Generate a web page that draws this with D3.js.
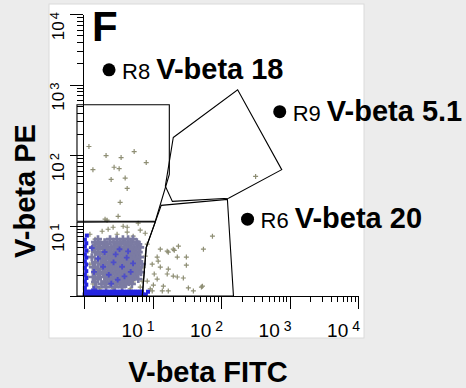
<!DOCTYPE html>
<html>
<head>
<meta charset="utf-8">
<script src="https://cdn.jsdelivr.net/npm/d3@7"></script>
<style>
  body { margin: 0; background: #ececec; }
  text { font-family: "Liberation Sans", Arial, sans-serif; }
</style>
</head>
<body>
<div id="my_dataviz"></div>
<script>
// decades shown on both log axes
var decadeExps = [1, 2, 3, 4];

// gate polygons, in fluorescence units [FITC, PE]
var gateR8 = [[0.79, 517], [17.6, 517], [17.6, 53], [11, 11.5], [0.79, 11.5]];
var gateLymph = [[0.79, 11.1], [11, 11.3], [8.1, 4.9], [7.1, 1], [0.79, 1]];
var gateR6 = [[8.1, 4.9], [13.4, 19.3], [124, 23.5], [152, 1], [7.1, 1]];
var gateR9 = [[20.1, 177], [175, 843], [770, 62], [129, 24.3], [19.5, 22], [15.4, 36]];

// gate markers and labels
var gateNames = ["R8", "R9", "R6"];
var gateLabels = ["V-beta 18", "V-beta 5.1", "V-beta 20"];
var gateMarks = [[2.32, 1616], [720, 412], [244, 12.3]];

// sparse events (grey crosses)
var greyEvents = [
  [75, 7.05], [55.4, 4.62], [23.9, 5.09], [20.1, 4.62], [16.4, 4.33], [23, 3.56], [31.2, 3.56],
  [31.2, 2.74], [11.7, 3.56], [13, 2.57], [10.6, 2.05], [17, 2.41], [16.4, 2.05], [11.7, 1.74],
  [23, 1.86], [9.9, 2.83], [33.4, 1.3], [51.8, 1.34], [13.9, 1.18], [17, 1.18], [9.9, 1.18],
  [39.5, 1.18], [13, 4.62], [17, 4.18], [20.8, 4.45], [28.2, 1.8], [53.6, 1.38], [14.4, 1.38],
  [10.3, 1.43], [12.1, 3.12], [20.1, 1.92],
  [1.18, 132], [2.1, 98], [3.48, 92], [5.4, 112], [8.1, 78], [1.35, 62], [2.75, 67], [3.26, 64],
  [2.49, 45], [3.99, 47], [4.27, 33.6], [3.37, 21.3], [3.15, 13.5], [2.17, 11.9], [320, 49.7],
  [2.03, 12.3], [2.66, 9.45], [3.73, 9.76], [6.18, 10.8], [6.62, 8.57], [7.83, 7.77], [4.27, 8.03],
  [1.22, 7.52], [1.45, 6.39], [1.84, 8.29], [5.22, 7.05], [8.38, 5.43], [7.83, 3.68], [7.32, 2.57],
  [7.08, 1.63], [1.14, 4.33], [1.22, 2.83], [1.14, 1.86], [1.35, 1.48], [1.71, 2.18], [3.37, 1.48],
  [5.22, 1.58], [4.27, 9.45], [3.04, 7.52], [2.25, 8.85], [1.6, 5.09], [6.18, 4.33], [5.98, 2.18],
  [2.17, 1.58], [2.66, 1.26], [4.72, 1.26], [1.71, 1.26], [6.62, 1.34], [9.27, 1.26], [8.38, 1.63]
];

// dense lymphocyte core (grey-violet)
var coreEvents = [
  [1.6, 6.4], [2.4, 6.4], [3.0, 6.4], [3.7, 6.4], [4.4, 6.4], [5.2, 6.4],
  [1.45, 5.8], [2.0, 5.8], [2.7, 5.8], [3.4, 5.8], [4.0, 5.8], [4.9, 5.8], [5.9, 5.8],
  [1.7, 5.4], [2.2, 5.4], [3.1, 5.4], [3.9, 5.4], [4.6, 5.4], [6.2, 5.4],
  [1.35, 4.9], [1.9, 4.9], [2.5, 4.9], [2.9, 4.9], [3.5, 4.9], [4.3, 4.9], [5.3, 4.9], [6.6, 4.9],
  [1.6, 4.6], [2.2, 4.6], [2.7, 4.6], [3.2, 4.6], [4.0, 4.6], [4.7, 4.6], [5.8, 4.6],
  [1.45, 4.2], [2.0, 4.2], [2.4, 4.2], [3.0, 4.2], [3.7, 4.2], [4.4, 4.2], [5.1, 4.2], [6.3, 4.2],
  [1.7, 3.9], [2.25, 3.9], [2.85, 3.9], [3.4, 3.9], [4.1, 3.9], [4.9, 3.9], [5.7, 3.9],
  [1.3, 3.55], [1.9, 3.55], [2.6, 3.55], [3.1, 3.55], [3.8, 3.55], [4.5, 3.55], [5.4, 3.55], [6.6, 3.55],
  [1.6, 3.33], [2.1, 3.33], [2.7, 3.33], [3.3, 3.33], [4.0, 3.33], [4.8, 3.33], [5.9, 3.33],
  [1.45, 3.0], [1.95, 3.0], [2.45, 3.0], [2.95, 3.0], [3.6, 3.0], [4.3, 3.0], [5.1, 3.0], [6.2, 3.0],
  [1.75, 2.83], [2.3, 2.83], [2.8, 2.83], [3.4, 2.83], [4.0, 2.83], [4.7, 2.83], [5.6, 2.83], [7.0, 2.83],
  [1.35, 2.57], [2.0, 2.57], [2.6, 2.57], [3.2, 2.57], [3.8, 2.57], [4.4, 2.57], [5.3, 2.57], [6.4, 2.57],
  [1.6, 2.41], [2.2, 2.41], [2.9, 2.41], [3.5, 2.41], [4.2, 2.41], [5.0, 2.41], [5.9, 2.41],
  [1.45, 2.18], [1.9, 2.18], [2.5, 2.18], [3.1, 2.18], [3.7, 2.18], [4.5, 2.18], [5.5, 2.18], [6.8, 2.18],
  [1.7, 2.05], [2.3, 2.05], [2.8, 2.05], [3.4, 2.05], [4.1, 2.05], [4.8, 2.05], [6.0, 2.05],
  [1.35, 1.86], [2.0, 1.86], [2.6, 1.86], [3.2, 1.86], [3.9, 1.86], [4.6, 1.86], [5.4, 1.86],
  [1.6, 1.74], [2.2, 1.74], [2.9, 1.74], [3.6, 1.74], [4.3, 1.74], [5.1, 1.74], [6.2, 1.74],
  [1.45, 1.58], [2.0, 1.58], [2.5, 1.58], [3.0, 1.58], [3.8, 1.58], [4.5, 1.58],
  [1.8, 1.48], [2.4, 1.48], [3.3, 1.48], [4.1, 1.48], [5.0, 1.48],
  [1.5, 1.34], [2.1, 1.34], [2.8, 1.34], [3.6, 1.34]
];

// blue events: axis pile-up and a few inside the core
var blueEvents = [
  [1.02, 1.05], [1.09, 1.05], [1.17, 1.05], [1.25, 1.05], [1.34, 1.05], [1.44, 1.05], [1.55, 1.05],
  [1.67, 1.05], [1.8, 1.05], [1.94, 1.05], [2.09, 1.05], [2.25, 1.05], [2.42, 1.05], [2.6, 1.05],
  [2.8, 1.05], [3.0, 1.05], [3.25, 1.05], [3.5, 1.05], [3.75, 1.05], [4.05, 1.05], [4.35, 1.05],
  [4.7, 1.05], [5.05, 1.05], [5.45, 1.05], [5.85, 1.05], [6.3, 1.05], [6.8, 1.05], [7.3, 1.05], [8.0, 1.05],
  [1.05, 1.15], [1.13, 1.15], [1.21, 1.15], [1.3, 1.15], [1.39, 1.15], [1.5, 1.15], [1.61, 1.15],
  [1.73, 1.15], [1.87, 1.15], [2.01, 1.15], [2.17, 1.15], [2.33, 1.15], [2.51, 1.15], [2.7, 1.15],
  [2.9, 1.15], [3.12, 1.15], [3.37, 1.15], [3.62, 1.15], [3.9, 1.15], [4.2, 1.15], [4.52, 1.15],
  [4.87, 1.15], [5.25, 1.15], [5.65, 1.15], [6.05, 1.15], [6.55, 1.15], [7.0, 1.15], [8.6, 1.15],
  [1.03, 1.3], [1.08, 1.45], [1.03, 1.6], [1.08, 1.8], [1.03, 2.0], [1.08, 2.25], [1.03, 2.5],
  [1.08, 2.8], [1.03, 3.1], [1.08, 3.5], [1.03, 3.9], [1.08, 4.4], [1.03, 5.0], [1.08, 5.6],
  [1.03, 6.3], [1.1, 7.2]
];
var blueCore = [
  [2.3, 2.0], [3.1, 1.7], [2.7, 3.0], [3.6, 2.6], [4.2, 3.5], [2.0, 4.2], [3.3, 4.6], [4.8, 2.2],
  [1.9, 2.6], [2.5, 1.5], [5.2, 2.9], [3.9, 1.9], [1.6, 3.4], [4.4, 4.3], [2.9, 3.9], [1.4, 2.2],
  [1.3, 4.8], [1.4, 1.25]
];

var width = 466, height = 388;

var svg = d3.select("#my_dataviz").append("svg")
    .attr("width", width)
    .attr("height", height);

// background and white plot panel
svg.append("rect").attr("width", width).attr("height", height).attr("fill", "#ececec");
svg.append("rect")
    .attr("x", 49).attr("y", 4)
    .attr("width", 315).attr("height", 334)
    .attr("fill", "#fff")
    .attr("stroke", "#dadada");

// log scales, 10^0 .. 10^4
var x = d3.scaleLog().domain([1, 1e4]).range([84, 358]);
var y = d3.scaleLog().domain([1, 1e4]).range([296, 14]);

function isDecade(v) { return Math.abs(Math.log10(v) - Math.round(Math.log10(v))) < 1e-9; }
var minorX = x.ticks().filter(function(v) { return !isDecade(v); });
var majorX = x.ticks().filter(isDecade);
var minorY = y.ticks().filter(function(v) { return !isDecade(v); });
var majorY = y.ticks().filter(isDecade);

// events
var cross = "M-2.5,0H2.5M0,-2.5V2.5";

svg.append("g")
  .selectAll("path")
  .data(greyEvents)
  .enter().append("path")
    .attr("transform", function(d) { return "translate(" + x(d[0]) + "," + y(d[1]) + ")"; })
    .attr("d", cross)
    .attr("stroke", "#8e8e74")
    .attr("stroke-width", 1.2);

svg.append("g")
  .selectAll("path")
  .data(coreEvents)
  .enter().append("path")
    .attr("transform", function(d) { return "translate(" + x(d[0]) + "," + y(d[1]) + ")"; })
    .attr("d", d3.symbol().type(d3.symbolCross).size(36))
    .attr("fill", "#7b7ba2");

svg.append("g")
  .selectAll("path")
  .data(blueCore)
  .enter().append("path")
    .attr("transform", function(d) { return "translate(" + x(d[0]) + "," + y(d[1]) + ")"; })
    .attr("d", d3.symbol().type(d3.symbolCross).size(18))
    .attr("fill", "#4d4dc8");

svg.append("g")
  .selectAll("rect")
  .data(blueEvents)
  .enter().append("rect")
    .attr("x", function(d) { return x(d[0]) - 2; })
    .attr("y", function(d) { return y(d[1]) - 2; })
    .attr("width", 4).attr("height", 4)
    .attr("fill", "#2525e0");

// gates
var line = d3.line()
    .x(function(d) { return x(d[0]); })
    .y(function(d) { return y(d[1]); })
    .curve(d3.curveLinearClosed);

svg.append("g")
  .selectAll("path")
  .data([gateR8, gateLymph, gateR6, gateR9])
  .enter().append("path")
    .attr("d", line)
    .attr("fill", "none")
    .attr("stroke", "#000")
    .attr("stroke-width", 1.1);

// axes: minor and major ticks drawn separately
svg.append("g")
    .attr("transform", "translate(0," + y(1) + ")")
    .call(d3.axisBottom(x).tickValues(minorX).tickSize(6).tickSizeOuter(0).tickFormat(""));
svg.append("g")
    .attr("transform", "translate(0," + y(1) + ")")
    .call(d3.axisBottom(x).tickValues(majorX).tickSize(13).tickSizeOuter(0).tickFormat(""));
svg.append("g")
    .attr("transform", "translate(" + (x(1) - 1) + ",0)")
    .call(d3.axisLeft(y).tickValues(minorY).tickSize(6).tickSizeOuter(0).tickFormat(""));
svg.append("g")
    .attr("transform", "translate(" + (x(1) - 1) + ",0)")
    .call(d3.axisLeft(y).tickValues(majorY).tickSize(13).tickSizeOuter(0).tickFormat(""));
svg.selectAll(".domain, .tick line").attr("stroke", "#000").attr("shape-rendering", "crispEdges");

// decade labels
var xl = svg.append("g").selectAll("text")
  .data(decadeExps)
  .enter().append("text")
    .attr("x", function(d) { return x(Math.pow(10, d)) + 2; })
    .attr("y", 337)
    .attr("text-anchor", "end")
    .style("font-size", "19px");
xl.append("tspan").text("10");
xl.append("tspan").attr("dx", 4).attr("dy", -6).style("font-size", "14px").text(function(d) { return d; });

var yl = svg.append("g").selectAll("text")
  .data(decadeExps)
  .enter().append("text")
    .attr("transform", function(d) { return "translate(64," + (y(Math.pow(10, d)) - 2) + ") rotate(-90)"; })
    .attr("text-anchor", "end")
    .style("font-size", "17px");
yl.append("tspan").text("10");
yl.append("tspan").attr("dx", 2).attr("dy", -5).style("font-size", "13px").text(function(d) { return d; });

// axis titles
svg.append("text")
    .attr("x", 208).attr("y", 382)
    .attr("text-anchor", "middle")
    .style("font-size", "29px").style("font-weight", "bold")
    .text("V-beta FITC");
svg.append("text")
    .attr("transform", "translate(35,191) rotate(-90)")
    .attr("text-anchor", "middle")
    .style("font-size", "29px").style("font-weight", "bold")
    .text("V-beta PE");

// panel letter
svg.append("text")
    .attr("x", 92).attr("y", 41)
    .style("font-size", "42px").style("font-weight", "bold")
    .text("F");

// gate markers
var marks = svg.append("g")
  .selectAll("g")
  .data(gateMarks)
  .enter().append("g")
    .attr("transform", function(d) { return "translate(" + x(d[0]) + "," + y(d[1]) + ")"; });
marks.append("circle").attr("r", 6.5).attr("fill", "#000");
var mt = marks.append("text")
    .attr("x", 13).attr("y", 9);
mt.append("tspan").style("font-size", "22px").text(function(d, i) { return gateNames[i]; });
mt.append("tspan").attr("dx", 6).style("font-size", "29px").style("font-weight", "bold")
    .text(function(d, i) { return gateLabels[i]; });
</script>
</body>
</html>
